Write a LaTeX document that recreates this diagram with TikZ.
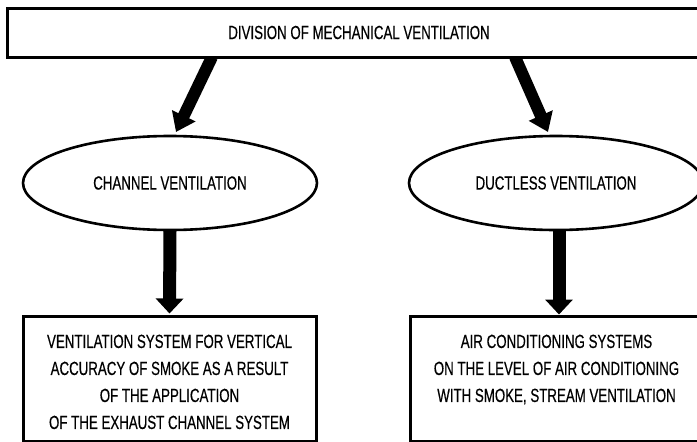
\documentclass[tikz,border=0pt]{standalone}
\usepackage{fontspec}
\setmainfont{Liberation Sans}[FakeStretch=0.70,FakeBold=0.4]
\usetikzlibrary{arrows.meta,shapes.geometric,calc}
\begin{document}
\begin{tikzpicture}[x=1pt,y=-1pt,
  box/.style={draw, fill=white, line width=3pt, rectangle, inner sep=0pt},
  oval/.style={draw, fill=white, line width=2.6pt, ellipse, inner sep=0pt},
  lbl/.style={font=\fontsize{19}{27}\selectfont, align=center, inner sep=0pt},
  diagarrow/.style={line width=12pt, -{Triangle[width=25pt,length=18pt]}},
  vertarrow/.style={line width=13pt, -{Triangle[width=27pt,length=15pt]}},
]
\useasboundingbox (0,0) rectangle (697,442);

% coordinates for arrow ends
\coordinate (s1) at (212,57);
\coordinate (e1) at (176,132);
\coordinate (s2) at (515,57);
\coordinate (e2) at (548,132);

\draw[diagarrow] (s1) -- (e1);
\draw[diagarrow] (s2) -- (e2);

\node[box, lbl, minimum width=704pt, minimum height=49pt] (top) at (359,32.5) {DIVISION OF MECHANICAL VENTILATION};

\node[oval, lbl, minimum width=294pt, minimum height=94pt] (ch) at (170,183) {CHANNEL VENTILATION};
\node[oval, lbl, minimum width=294pt, minimum height=94pt] (du) at (556,183) {DUCTLESS VENTILATION};

\node[box, minimum width=293pt, minimum height=125pt] (b1) at (169.5,378.5) {};
\node[box, minimum width=293pt, minimum height=125pt] (b2) at (556.5,378.5) {};

\node[lbl, anchor=north] (t1) at ($(b1.north)+(0,20)$) {VENTILATION SYSTEM FOR VERTICAL\\ACCURACY OF SMOKE AS A RESULT\\OF THE APPLICATION\\OF THE EXHAUST CHANNEL SYSTEM};
\node[lbl, anchor=north] (t2) at ($(b2.north)+(0,20)$) {AIR CONDITIONING SYSTEMS\\ON THE LEVEL OF AIR CONDITIONING\\WITH SMOKE, STREAM VENTILATION};

\coordinate (v1) at ($(ch.south)+(0,-2)$);
\coordinate (w1) at ($(b1.north)+(0,-1)$);
\coordinate (v2) at ($(du.south)+(3,-2)$);
\coordinate (w2) at ($(b2.north)+(2.5,0)$);
\draw[vertarrow] (v1) -- (w1);
\draw[vertarrow] (v2) -- (w2);
\end{tikzpicture}
\end{document}
